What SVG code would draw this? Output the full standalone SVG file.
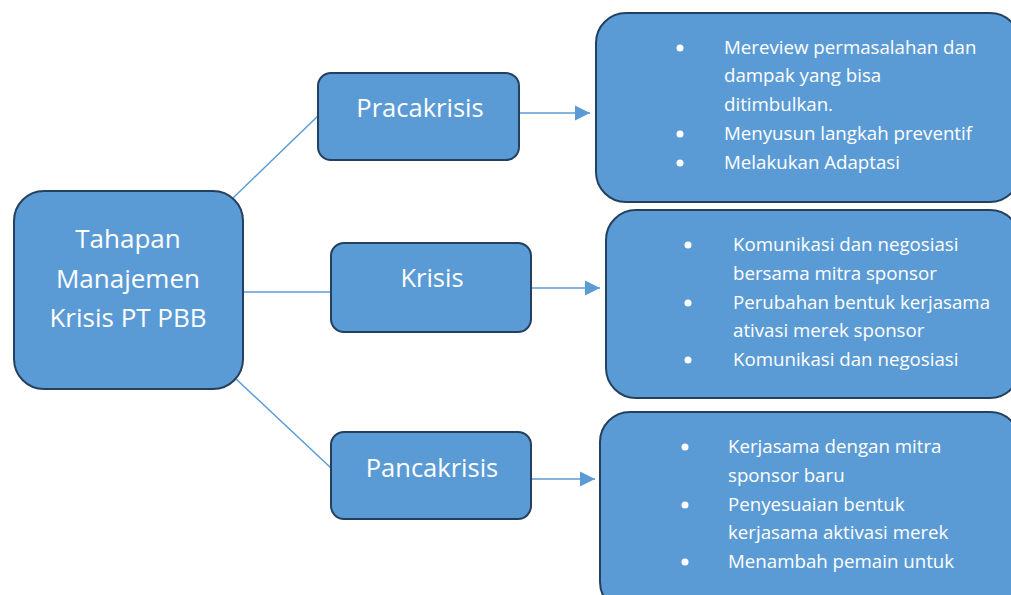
<svg xmlns="http://www.w3.org/2000/svg" width="1011" height="595" viewBox="0 0 1011 595">
  <style>
    .box { fill: #5B9BD5; stroke: #24405F; stroke-width: 2; }
    .link { stroke: #5B9BD5; stroke-width: 1.5; fill: none; }
    .title { font-family: "Open Sans", Lato, sans-serif; fill: #FFFFFF; text-anchor: middle; }
    .item { font-family: "Open Sans", Lato, sans-serif; fill: #FFFFFF; font-size: 18.7px; }
    .dot { fill: #FFFFFF; }
  </style>
  <defs>
    <marker id="arrow" viewBox="0 0 10 10" refX="10" refY="5" markerWidth="15" markerHeight="16" markerUnits="userSpaceOnUse" orient="auto">
      <path d="M0,0 L10,5 L0,10 Z" fill="#5B9BD5"/>
    </marker>
  </defs>
  <rect width="1011" height="595" fill="#FFFFFF"/>

  <!-- connectors -->
  <g id="connectors">
    <line class="link" x1="233" y1="198" x2="320" y2="114"/>
    <line class="link" x1="243" y1="292" x2="331" y2="292"/>
    <line class="link" x1="235" y1="378" x2="331" y2="468"/>
    <line class="link" x1="519" y1="113" x2="590" y2="113" marker-end="url(#arrow)"/>
    <line class="link" x1="531" y1="288" x2="600" y2="288" marker-end="url(#arrow)"/>
    <line class="link" x1="531" y1="479" x2="595" y2="479" marker-end="url(#arrow)"/>
  </g>

  <!-- root -->
  <g id="root">
    <rect class="box" x="14" y="191" width="229" height="198" rx="30"/>
    <text class="title" font-size="26" x="128" y="248">Tahapan</text>
    <text class="title" font-size="26" x="128" y="288">Manajemen</text>
    <text class="title" font-size="26" x="128" y="327">Krisis PT PBB</text>
  </g>

  <!-- phases -->
  <g id="pracakrisis">
    <rect class="box" x="318" y="73" width="201" height="87" rx="13"/>
    <text class="title" font-size="25.5" x="420" y="117">Pracakrisis</text>
  </g>
  <g id="krisis">
    <rect class="box" x="331" y="243" width="200" height="89" rx="13"/>
    <text class="title" font-size="25.5" x="432" y="287">Krisis</text>
  </g>
  <g id="pancakrisis">
    <rect class="box" x="331" y="432" width="200" height="87" rx="13"/>
    <text class="title" font-size="25.5" x="432" y="477">Pancakrisis</text>
  </g>

  <!-- details -->
  <g id="detail-pracakrisis">
    <rect class="box" x="596" y="13" width="424" height="189" rx="30"/>
    <circle class="dot" cx="680" cy="48" r="3.5"/>
    <circle class="dot" cx="680" cy="134" r="3.5"/>
    <circle class="dot" cx="680" cy="163" r="3.5"/>
    <text class="item" x="724" y="54">Mereview permasalahan dan</text>
    <text class="item" x="724" y="82">dampak yang bisa</text>
    <text class="item" x="724" y="111">ditimbulkan.</text>
    <text class="item" x="724" y="140">Menyusun langkah preventif</text>
    <text class="item" x="724" y="169">Melakukan Adaptasi</text>
  </g>
  <g id="detail-krisis">
    <rect class="box" x="606" y="210" width="414" height="188" rx="30"/>
    <circle class="dot" cx="688" cy="245" r="3.5"/>
    <circle class="dot" cx="688" cy="303" r="3.5"/>
    <circle class="dot" cx="688" cy="360" r="3.5"/>
    <text class="item" x="733" y="251">Komunikasi dan negosiasi</text>
    <text class="item" x="733" y="280">bersama mitra sponsor</text>
    <text class="item" x="733" y="309">Perubahan bentuk kerjasama</text>
    <text class="item" x="733" y="337">ativasi merek sponsor</text>
    <text class="item" x="733" y="366">Komunikasi dan negosiasi</text>
  </g>
  <g id="detail-pancakrisis">
    <rect class="box" x="600" y="412" width="420" height="200" rx="30"/>
    <circle class="dot" cx="685" cy="447" r="3.5"/>
    <circle class="dot" cx="685" cy="505" r="3.5"/>
    <circle class="dot" cx="685" cy="562" r="3.5"/>
    <text class="item" x="728" y="453">Kerjasama dengan mitra</text>
    <text class="item" x="728" y="482">sponsor baru</text>
    <text class="item" x="728" y="511">Penyesuaian bentuk</text>
    <text class="item" x="728" y="539">kerjasama aktivasi merek</text>
    <text class="item" x="728" y="568">Menambah pemain untuk</text>
  </g>
</svg>
